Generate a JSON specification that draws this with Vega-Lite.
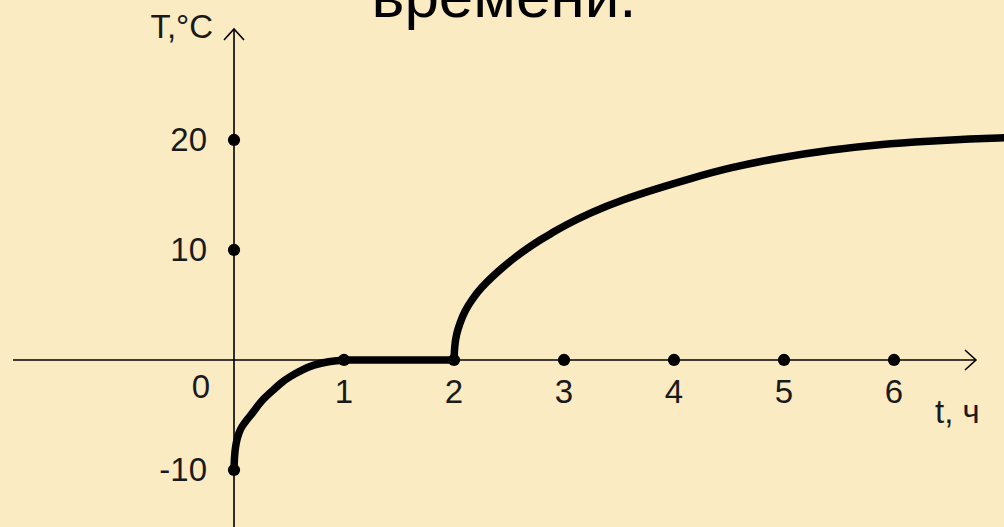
{
  "$schema": "https://vega.github.io/schema/vega-lite/v6.json",
  "width": 1004,
  "height": 527,
  "padding": 0,
  "autosize": {"type": "none"},
  "background": "#FAEBC3",
  "config": {"view": {"stroke": null}, "text": {"font": "Liberation Sans"}},
  "datasets": {
    "one": [{}],
    "curve": [
      {"seg": "a", "t": 0, "T": -10}, {"seg": "a", "t": 0.004, "T": -8.8}, {"seg": "a", "t": 0.012, "T": -8.0}, {"seg": "a", "t": 0.024, "T": -7.3},
      {"seg": "a", "t": 0.045, "T": -6.6}, {"seg": "a", "t": 0.07, "T": -6.05}, {"seg": "a", "t": 0.12, "T": -5.4}, {"seg": "a", "t": 0.17, "T": -4.8},
      {"seg": "a", "t": 0.22, "T": -4.1}, {"seg": "a", "t": 0.27, "T": -3.5}, {"seg": "a", "t": 0.36, "T": -2.7}, {"seg": "a", "t": 0.43, "T": -2.05},
      {"seg": "a", "t": 0.51, "T": -1.5}, {"seg": "a", "t": 0.62, "T": -0.9},
      {"seg": "a", "t": 0.72, "T": -0.45}, {"seg": "a", "t": 0.86, "T": -0.12}, {"seg": "a", "t": 1, "T": 0},
      {"seg": "b", "t": 1, "T": 0}, {"seg": "b", "t": 2, "T": 0},
      {"seg": "c", "t": 2, "T": 0}, {"seg": "c", "t": 2.005, "T": 1.2}, {"seg": "c", "t": 2.02, "T": 2.3}, {"seg": "c", "t": 2.055, "T": 3.4},
      {"seg": "c", "t": 2.1, "T": 4.5}, {"seg": "c", "t": 2.17, "T": 5.6}, {"seg": "c", "t": 2.25, "T": 6.6}, {"seg": "c", "t": 2.34, "T": 7.5},
      {"seg": "c", "t": 2.44, "T": 8.4}, {"seg": "c", "t": 2.55, "T": 9.3}, {"seg": "c", "t": 2.66, "T": 10.1}, {"seg": "c", "t": 2.78, "T": 10.9},
      {"seg": "c", "t": 2.9, "T": 11.6}, {"seg": "c", "t": 3.0, "T": 12.2}, {"seg": "c", "t": 3.24, "T": 13.4}, {"seg": "c", "t": 3.54, "T": 14.6},
      {"seg": "c", "t": 3.85, "T": 15.6}, {"seg": "c", "t": 4.15, "T": 16.5}, {"seg": "c", "t": 4.51, "T": 17.5}, {"seg": "c", "t": 4.96, "T": 18.4},
      {"seg": "c", "t": 5.42, "T": 19.1}, {"seg": "c", "t": 5.87, "T": 19.6}, {"seg": "c", "t": 6.33, "T": 19.9}, {"seg": "c", "t": 6.7, "T": 20.1},
      {"seg": "c", "t": 7.0, "T": 20.2}
    ],
    "xticks": [
      {"t": 1, "label": "1"}, {"t": 2, "label": "2"}, {"t": 3, "label": "3"},
      {"t": 4, "label": "4"}, {"t": 5, "label": "5"}, {"t": 6, "label": "6"}
    ],
    "yticks": [
      {"T": 10, "label": "10"}, {"T": 20, "label": "20"}, {"T": -10, "label": "-10"}
    ]
  },
  "layer": [
    {
      "data": {"name": "one"},
      "mark": {"type": "rule", "color": "#000000", "strokeWidth": 1.6},
      "encoding": {
        "x": {"datum": -2.009, "type": "quantitative", "scale": {"domain": [-2.1273, 7.0], "nice": false, "zero": false}, "axis": null},
        "x2": {"datum": 6.745},
        "y": {"datum": 0, "type": "quantitative", "scale": {"domain": [-15.182, 32.727], "nice": false, "zero": false}, "axis": null}
      }
    },
    {
      "data": {"name": "one"},
      "mark": {"type": "rule", "color": "#000000", "strokeWidth": 1.6},
      "encoding": {
        "x": {"datum": 0, "type": "quantitative", "scale": {"domain": [-2.1273, 7.0], "nice": false, "zero": false}, "axis": null},
        "y": {"datum": -16, "type": "quantitative", "scale": {"domain": [-15.182, 32.727], "nice": false, "zero": false}, "axis": null},
        "y2": {"datum": 30.09}
      }
    },
    {
      "data": {"name": "one"},
      "mark": {"type": "point", "shape": "M-1.1,-1L0,0L-1.1,1", "filled": false, "stroke": "#000000", "strokeWidth": 1.6, "size": 400, "opacity": 1},
      "encoding": {
        "x": {"datum": 6.745, "type": "quantitative", "scale": {"domain": [-2.1273, 7.0], "nice": false, "zero": false}, "axis": null},
        "y": {"datum": 0, "type": "quantitative", "scale": {"domain": [-15.182, 32.727], "nice": false, "zero": false}, "axis": null}
      }
    },
    {
      "data": {"name": "one"},
      "mark": {"type": "point", "shape": "M-1,1.1L0,0L1,1.1", "filled": false, "stroke": "#000000", "strokeWidth": 1.6, "size": 400, "opacity": 1},
      "encoding": {
        "x": {"datum": 0, "type": "quantitative", "scale": {"domain": [-2.1273, 7.0], "nice": false, "zero": false}, "axis": null},
        "y": {"datum": 30.09, "type": "quantitative", "scale": {"domain": [-15.182, 32.727], "nice": false, "zero": false}, "axis": null}
      }
    },
    {
      "data": {"name": "xticks"},
      "mark": {"type": "point", "filled": true, "color": "#000000", "size": 150, "opacity": 1},
      "encoding": {
        "x": {"field": "t", "type": "quantitative", "scale": {"domain": [-2.1273, 7.0], "nice": false, "zero": false}, "axis": null},
        "y": {"datum": 0, "type": "quantitative", "scale": {"domain": [-15.182, 32.727], "nice": false, "zero": false}, "axis": null}
      }
    },
    {
      "data": {"name": "yticks"},
      "mark": {"type": "point", "filled": true, "color": "#000000", "size": 150, "opacity": 1},
      "encoding": {
        "x": {"datum": 0, "type": "quantitative", "scale": {"domain": [-2.1273, 7.0], "nice": false, "zero": false}, "axis": null},
        "y": {"field": "T", "type": "quantitative", "scale": {"domain": [-15.182, 32.727], "nice": false, "zero": false}, "axis": null}
      }
    },
    {
      "data": {"name": "curve"},
      "mark": {"type": "line", "color": "#000000", "strokeWidth": 7.5, "interpolate": "basis", "strokeCap": "round", "strokeJoin": "round"},
      "encoding": {
        "x": {"field": "t", "type": "quantitative", "scale": {"domain": [-2.1273, 7.0], "nice": false, "zero": false}, "axis": null},
        "y": {"field": "T", "type": "quantitative", "scale": {"domain": [-15.182, 32.727], "nice": false, "zero": false}, "axis": null},
        "detail": {"field": "seg", "type": "nominal"}
      }
    },
    {
      "data": {"name": "xticks"},
      "mark": {"type": "text", "fontSize": 33, "color": "#1a1a1a", "align": "center", "baseline": "alphabetic", "dy": 43},
      "encoding": {
        "x": {"field": "t", "type": "quantitative", "scale": {"domain": [-2.1273, 7.0], "nice": false, "zero": false}, "axis": null},
        "y": {"datum": 0, "type": "quantitative", "scale": {"domain": [-15.182, 32.727], "nice": false, "zero": false}, "axis": null},
        "text": {"field": "label"}
      }
    },
    {
      "data": {"name": "yticks"},
      "mark": {"type": "text", "fontSize": 33, "color": "#1a1a1a", "align": "right", "baseline": "middle", "dx": -27, "dy": 1},
      "encoding": {
        "x": {"datum": 0, "type": "quantitative", "scale": {"domain": [-2.1273, 7.0], "nice": false, "zero": false}, "axis": null},
        "y": {"field": "T", "type": "quantitative", "scale": {"domain": [-15.182, 32.727], "nice": false, "zero": false}, "axis": null},
        "text": {"field": "label"}
      }
    },
    {
      "data": {"name": "one"},
      "mark": {"type": "text", "fontSize": 33, "color": "#1a1a1a", "align": "right", "baseline": "alphabetic", "dx": -24, "dy": 38, "text": "0"},
      "encoding": {
        "x": {"datum": 0, "type": "quantitative", "scale": {"domain": [-2.1273, 7.0], "nice": false, "zero": false}, "axis": null},
        "y": {"datum": 0, "type": "quantitative", "scale": {"domain": [-15.182, 32.727], "nice": false, "zero": false}, "axis": null}
      }
    },
    {
      "data": {"name": "one"},
      "mark": {"type": "text", "fontSize": 33, "color": "#1a1a1a", "align": "right", "baseline": "alphabetic", "text": "T,°C"},
      "encoding": {
        "x": {"datum": -0.19, "type": "quantitative", "scale": {"domain": [-2.1273, 7.0], "nice": false, "zero": false}, "axis": null},
        "y": {"datum": 29.27, "type": "quantitative", "scale": {"domain": [-15.182, 32.727], "nice": false, "zero": false}, "axis": null}
      }
    },
    {
      "data": {"name": "one"},
      "mark": {"type": "text", "fontSize": 33, "color": "#1a1a1a", "align": "left", "baseline": "alphabetic", "text": "t, ч"},
      "encoding": {
        "x": {"datum": 6.373, "type": "quantitative", "scale": {"domain": [-2.1273, 7.0], "nice": false, "zero": false}, "axis": null},
        "y": {"datum": -5.73, "type": "quantitative", "scale": {"domain": [-15.182, 32.727], "nice": false, "zero": false}, "axis": null}
      }
    },
    {
      "data": {"name": "one"},
      "mark": {"type": "text", "fontSize": 62, "color": "#000000", "align": "center", "baseline": "alphabetic", "text": "времени."},
      "encoding": {
        "x": {"datum": 2.4545, "type": "quantitative", "scale": {"domain": [-2.1273, 7.0], "nice": false, "zero": false}, "axis": null},
        "y": {"datum": 31.18, "type": "quantitative", "scale": {"domain": [-15.182, 32.727], "nice": false, "zero": false}, "axis": null}
      }
    }
  ]
}
